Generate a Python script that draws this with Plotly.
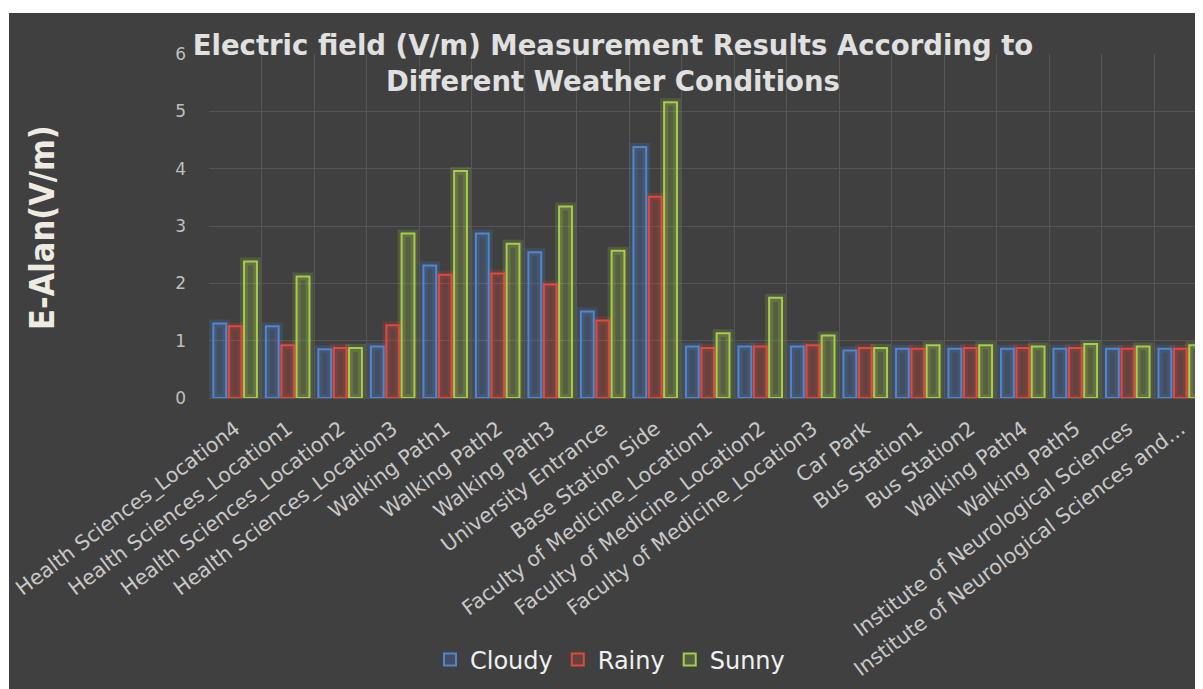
import plotly.graph_objects as go

categories = [
    "Health Sciences_Location4", "Health Sciences_Location1", "Health Sciences_Location2",
    "Health Sciences_Location3", "Walking Path1", "Walking Path2", "Walking Path3",
    "University Entrance", "Base Station Side", "Faculty of Medicine_Location1",
    "Faculty of Medicine_Location2", "Faculty of Medicine_Location3", "Car Park",
    "Bus Station1", "Bus Station2", "Walking Path4", "Walking Path5",
    "Institute of Neurological Sciences", "Institute of Neurological Sciences and…",
]
cloudy = [1.30, 1.25, 0.85, 0.90, 2.31, 2.87, 2.54, 1.51, 4.38, 0.90, 0.90, 0.90, 0.83, 0.86, 0.86, 0.86, 0.86, 0.86, 0.86]
rainy = [1.25, 0.92, 0.87, 1.27, 2.15, 2.17, 1.98, 1.35, 3.51, 0.87, 0.90, 0.92, 0.87, 0.86, 0.87, 0.87, 0.87, 0.86, 0.86]
sunny = [2.38, 2.12, 0.87, 2.87, 3.96, 2.69, 3.34, 2.57, 5.16, 1.13, 1.75, 1.09, 0.87, 0.92, 0.92, 0.90, 0.94, 0.90, 0.92]
y_ticks = [0, 1, 2, 3, 4, 5, 6]

series = [
    ("Cloudy", cloudy, (79, 134, 208), -0.295),
    ("Rainy", rainy, (224, 73, 62), 0.0),
    ("Sunny", sunny, (166, 204, 76), 0.29),
]
# page body has an 8px margin; the figure fills the rest of the window
W = 1195
H = 681
L, R, T, B = 201, 0, 46, 291
bar_w = 0.245

fig = go.Figure()
# glow layer
for name, vals, (r, g, b), c in series:
    fig.add_trace(go.Bar(
        x=categories, y=vals, name=name, showlegend=False, hoverinfo="skip",
        width=bar_w, offset=c - bar_w / 2,
        marker=dict(color="rgba(0,0,0,0)", line=dict(color=f"rgba({r},{g},{b},0.18)", width=8)),
    ))
for name, vals, (r, g, b), c in series:
    fig.add_trace(go.Bar(
        x=categories, y=vals, name=name,
        width=bar_w, offset=c - bar_w / 2,
        marker=dict(color=f"rgba({r},{g},{b},0.22)", line=dict(color=f"rgb({r},{g},{b})", width=2)),
    ))

pw = W - L - R
ph = H - T - B
def px_x(X):
    return (X - L) / pw
def px_y(Y):
    return (H - B - Y) / ph

fig.update_layout(
    width=W, height=H,
    margin=dict(l=L, r=R, t=T, b=B, autoexpand=False),
    paper_bgcolor="white",
    plot_bgcolor="#404040",
    barmode="overlay",
    font=dict(family="DejaVu Sans, sans-serif", color="#C8C8C8"),
    shapes=[dict(type="rect", xref="paper", yref="paper", layer="below",
                 x0=px_x(1), x1=1.0, y0=px_y(H + 2), y1=px_y(5),
                 fillcolor="#404040", line=dict(width=0))],
    title=dict(
        text="<b>Electric field (V/m) Measurement Results According to<br>Different Weather Conditions</b>",
        x=605 / W, xanchor="center", xref="container",
        y=1 - 47 / H, yanchor="top", yref="container",
        font=dict(family="DejaVu Sans, sans-serif", size=27.5, color="#E0E0E0"),
    ),
    xaxis=dict(
        type="category", range=[-0.5, 18.43], tickson="boundaries",
        showgrid=True, gridcolor="#555555", gridwidth=1,
        ticks="", tickangle=-37, ticklabelstandoff=14,
        tickfont=dict(size=20.5, color="#C8C8C8"),
        showline=False, zeroline=False, automargin=False,
    ),
    yaxis=dict(
        range=[0, 6], tickvals=y_ticks, showgrid=True, gridcolor="#555555", gridwidth=1,
        zeroline=True, zerolinecolor="#555555", zerolinewidth=1,
        ticks="", ticklabelstandoff=22, tickfont=dict(size=17, color="#BFBFBF"),
        automargin=False,
    ),
    legend=dict(
        orientation="h", x=px_x(422), xanchor="left", y=px_y(652), yanchor="middle",
        font=dict(size=24, color="#F0F0F0"), bgcolor="rgba(0,0,0,0)",
        itemwidth=30, traceorder="normal",
    ),
    annotations=[dict(
        text="<b>E-Alan(V/m)</b>", textangle=-90, xref="paper", yref="paper",
        x=px_x(34), y=px_y(220), xanchor="center", yanchor="middle", showarrow=False,
        font=dict(family="Liberation Sans Narrow, DejaVu Sans Condensed, sans-serif", size=34, color="#EEEBE0"),
    )],
)
fig.write_html("out.html")
